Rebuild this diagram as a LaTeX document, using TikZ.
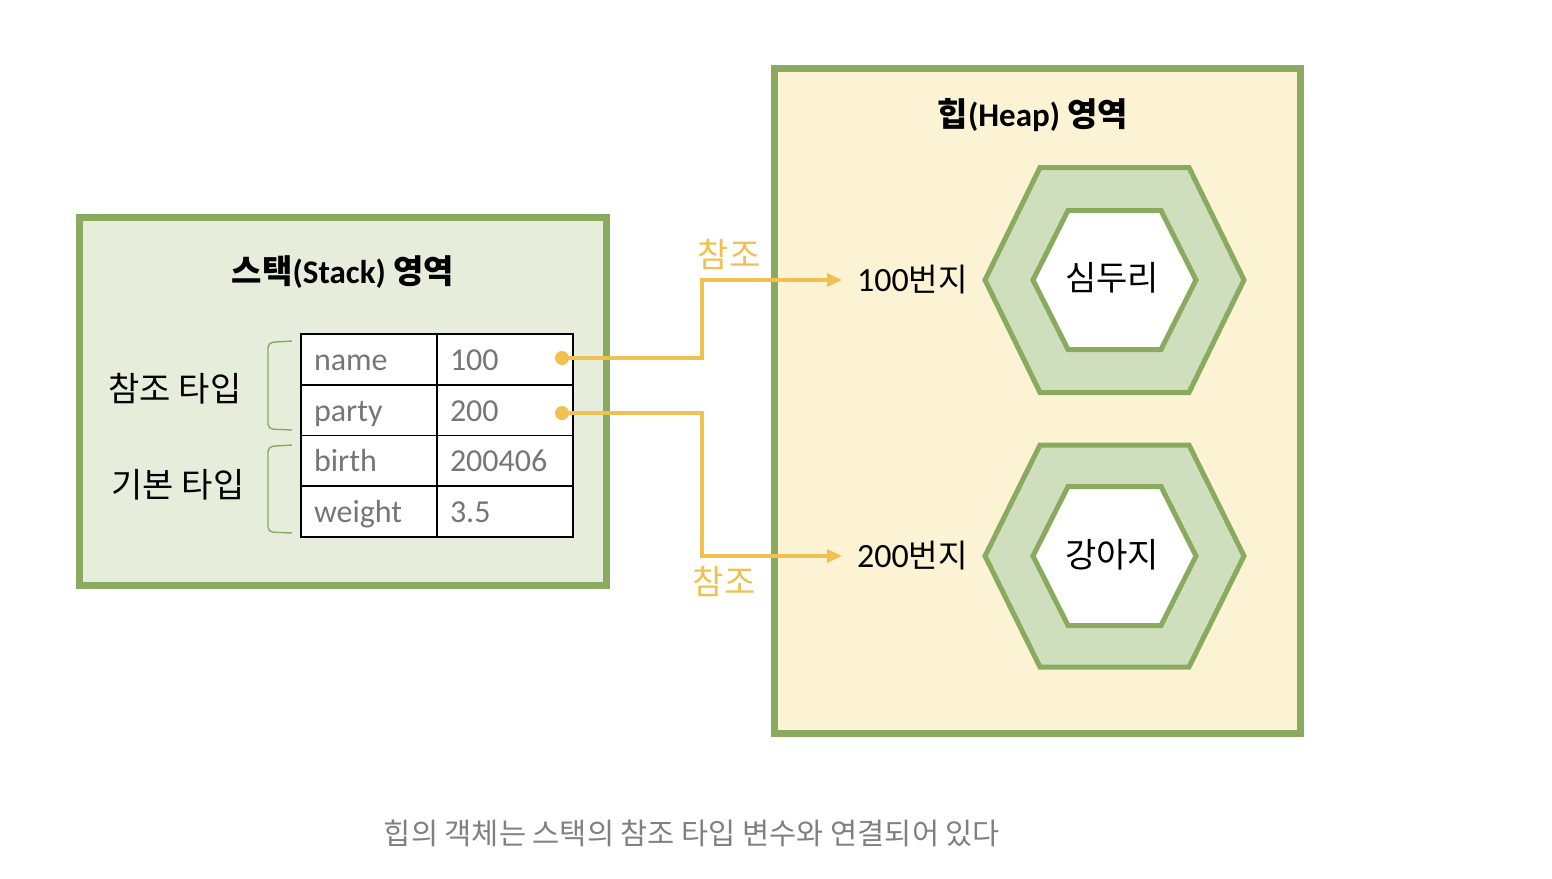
\documentclass[tikz,border=0pt]{standalone}
\usepackage{fontspec}
\setmainfont{Noto Sans CJK KR}
\newfontfamily\lat{Carlito}
\usetikzlibrary{arrows.meta}
\definecolor{gr}{RGB}{138,170,95}
\definecolor{stackfill}{RGB}{230,237,218}
\definecolor{heapfill}{RGB}{252,242,212}
\definecolor{hexfill}{RGB}{207,223,189}
\definecolor{refc}{RGB}{240,193,80}
\definecolor{celltxt}{RGB}{118,118,118}
\definecolor{captc}{RGB}{128,128,128}
\tikzset{
  area/.style={draw=gr, line width=7pt, inner sep=0pt},
  cell/.style={draw=black, fill=white, line width=1.8pt, minimum width=136pt, minimum height=50.75pt,
    inner xsep=13pt, inner ysep=0pt, text width=110pt, align=left, text height=22pt, text depth=0pt,
    text=celltxt, font=\lat\fontsize{32}{34}\selectfont},
  title/.style={font=\bfseries\fontsize{33}{36}\selectfont},
  klabel/.style={font=\fontsize{34}{38}\selectfont, inner sep=0pt},
  addr/.style={font=\fontsize{32}{36}\selectfont, inner sep=0pt},
  reflabel/.style={font=\fontsize{34}{38}\selectfont, text=refc, inner sep=0pt},
  refarrow/.style={draw=refc, line width=3.5pt, -{Triangle[length=15pt,width=13pt]}},
  dot/.style={fill=refc},
  brack/.style={draw=gr, line width=1.4pt, rounded corners=5pt},
  hexout/.style={draw=gr, fill=hexfill, line width=5pt, line join=miter},
  hexin/.style={draw=gr, fill=white, line width=5pt, line join=miter},
}
\newcommand{\hexat}[5]{% style, center, half width, half height, top half width
  \path[#1] ([shift={(-#3,0)}]#2) -- ([shift={(-#5,-#4)}]#2) -- ([shift={(#5,-#4)}]#2)
    -- ([shift={(#3,0)}]#2) -- ([shift={(#5,#4)}]#2) -- ([shift={(-#5,#4)}]#2) -- cycle;}
\begin{document}
\begin{tikzpicture}[x=1pt,y=-1pt]
\useasboundingbox (0,0) rectangle (1552,878);
\fill[white] (0,0) rectangle (1552,878);

% areas
\node[area, fill=stackfill, minimum width=527pt, minimum height=368pt] (stack) at (342.5,401) {};
\node[area, fill=heapfill, minimum width=526pt, minimum height=665pt] (heap) at (1037.5,401) {};

\node[title] (stitle) at (343,272) {스택{\lat(Stack)} 영역};
\node[title] (htitle) at (1033,115) {힙{\lat(Heap)} 영역};

% table
\node[cell] (n1) at (369,359.4) {name};
\node[cell] (v1) at (505,359.4) {100};
\node[cell] (n2) at (369,410.1) {party};
\node[cell] (v2) at (505,410.1) {200};
\node[cell] (n3) at (369,460.9) {birth};
\node[cell] (v3) at (505,460.9) {200406};
\node[cell] (n4) at (369,511.6) {weight};
\node[cell] (v4) at (505,511.6) {3.5};

% brackets and labels
\draw[brack] (292,341) -- (268,342.5) -- (268,429) -- (292,430);
\draw[brack] (292,445) -- (268,446.5) -- (268,532) -- (292,533);
\node[klabel] (reftype) at (175,389) {참조 타입};
\node[klabel] (primtype) at (178,485) {기본 타입};

% heap objects
\coordinate (h1) at (1114.5,280);
\coordinate (h2) at (1114.5,556);
\hexat{hexout}{h1}{129.5}{112.5}{74.5}
\hexat{hexin}{h1}{81.5}{69.5}{46.5}
\hexat{hexout}{h2}{129.5}{111}{74.5}
\hexat{hexin}{h2}{81.5}{69.5}{46.5}
\node[klabel] (o1) at (1112,278) {심두리};
\node[klabel] (o2) at (1112,555) {강아지};

\node[addr, anchor=west] (a1) at (857,280) {{\lat\fontsize{34}{36}\selectfont 100}번지};
\node[addr, anchor=west] (a2) at (857,556) {{\lat\fontsize{34}{36}\selectfont 200}번지};

% references
\coordinate (d1) at (562,358);
\coordinate (d2) at (562,413);
\draw[refarrow, shorten >=15pt] (d1) -- (702,358) |- (a1.west);
\draw[refarrow, shorten >=15pt] (d2) -- (702,413) |- (a2.west);
\fill[dot] (d1) circle (7pt);
\fill[dot] (d2) circle (7pt);
\node[reflabel] (r1) at (729,254) {참조};
\node[reflabel] (r2) at (724,581) {참조};

% caption
\node[font=\fontsize{29.5}{32}\selectfont, text=captc, inner sep=0pt] (cap) at (692,833) {힙의 객체는 스택의 참조 타입 변수와 연결되어 있다};
\end{tikzpicture}
\end{document}
